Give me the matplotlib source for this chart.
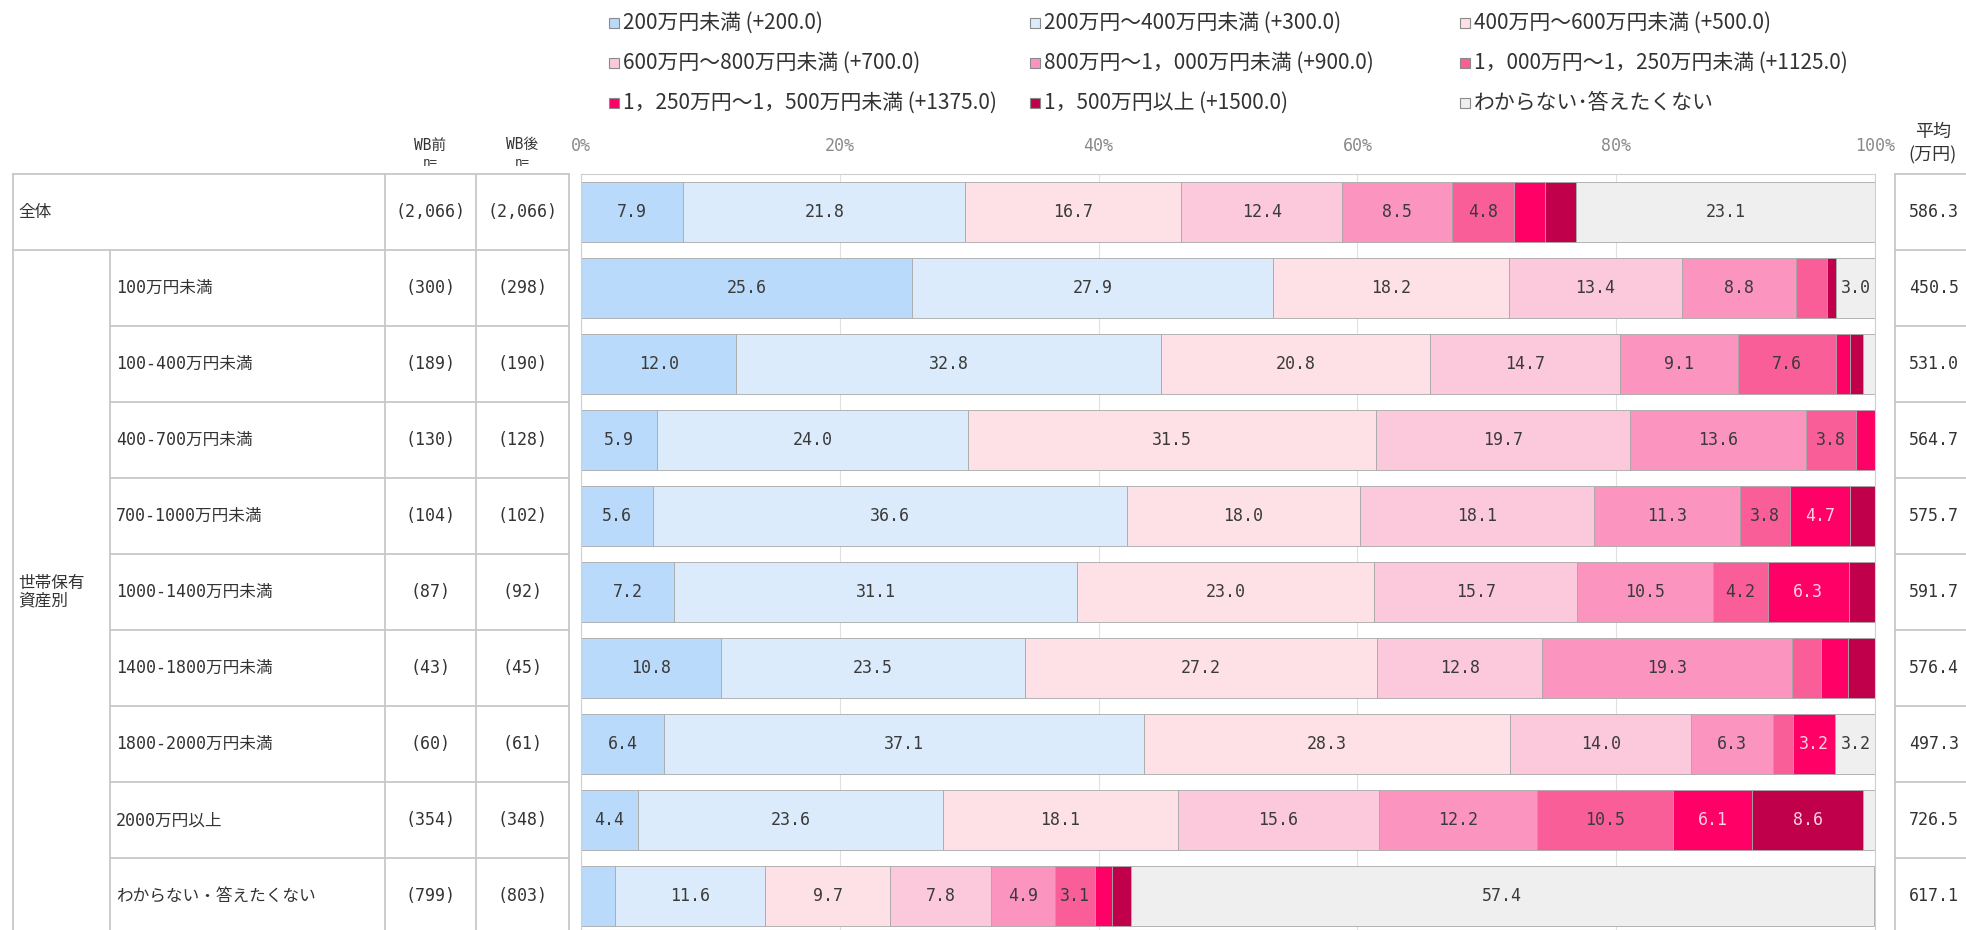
import matplotlib
matplotlib.use('Agg')
import matplotlib.pyplot as plt
from matplotlib.patches import Rectangle
import numpy as np

plt.rcParams['font.family'] = ['Noto Sans CJK JP', 'DejaVu Sans']
MONO = ['DejaVu Sans Mono', 'Noto Sans CJK JP']

# ---- data ----
groups = ['全体', '100万円未満', '100-400万円未満', '400-700万円未満', '700-1000万円未満',
          '1000-1400万円未満', '1400-1800万円未満', '1800-2000万円未満', '2000万円以上',
          'わからない・答えたくない']
n_before = ['(2,066)', '(300)', '(189)', '(130)', '(104)', '(87)', '(43)', '(60)', '(354)', '(799)']
n_after = ['(2,066)', '(298)', '(190)', '(128)', '(102)', '(92)', '(45)', '(61)', '(348)', '(803)']
mean_values = [586.3, 450.5, 531.0, 564.7, 575.7, 591.7, 576.4, 497.3, 726.5, 617.1]

series_names = ['200万円未満 (+200.0)', '200万円～400万円未満 (+300.0)', '400万円～600万円未満 (+500.0)',
                '600万円～800万円未満 (+700.0)', '800万円～1，000万円未満 (+900.0)',
                '1，000万円～1，250万円未満 (+1125.0)', '1，250万円～1，500万円未満 (+1375.0)',
                '1，500万円以上 (+1500.0)', 'わからない･答えたくない']

lt200 = [7.9, 25.6, 12.0, 5.9, 5.6, 7.2, 10.8, 6.4, 4.4, 2.6]
r200_400 = [21.8, 27.9, 32.8, 24.0, 36.6, 31.1, 23.5, 37.1, 23.6, 11.6]
r400_600 = [16.7, 18.2, 20.8, 31.5, 18.0, 23.0, 27.2, 28.3, 18.1, 9.7]
r600_800 = [12.4, 13.4, 14.7, 19.7, 18.1, 15.7, 12.8, 14.0, 15.6, 7.8]
r800_1000 = [8.5, 8.8, 9.1, 13.6, 11.3, 10.5, 19.3, 6.3, 12.2, 4.9]
r1000_1250 = [4.8, 2.4, 7.6, 3.8, 3.8, 4.2, 2.2, 1.6, 10.5, 3.1]
r1250_1500 = [2.4, 0.0, 1.1, 1.5, 4.7, 6.3, 2.1, 3.2, 6.1, 1.3]
ge1500 = [2.4, 0.7, 1.0, 0.0, 1.9, 2.0, 2.1, 0.0, 8.6, 1.5]
unknown = [23.1, 3.0, 0.9, 0.0, 0.0, 0.0, 0.0, 3.2, 0.9, 57.4]

series = [lt200, r200_400, r400_600, r600_800, r800_1000, r1000_1250, r1250_1500, ge1500, unknown]
colors = ['#b9dafa', '#dbebfb', '#fde1e6', '#fcc8dc', '#fb95bf', '#fa5e98', '#ff0066', '#c0004b', '#efefef']
label_colors = ['#3a3a3a'] * 6 + ['#ffd0e2', '#ffd0e2', '#3a3a3a']

# ---- layout (pixels) ----
W, H = 1966, 930
top = 174
pitch = 76
x_tbl = [12.5, 110, 385, 476, 569]
plot_l, plot_r = 581, 1875
mean_l = 1895

fig = plt.figure(figsize=(W / 100, H / 100), dpi=100)

# bar axes
ax = fig.add_axes([plot_l / W, 0, (plot_r - plot_l) / W, (H - top) / H])
y = np.arange(len(groups))
left = np.zeros(len(groups))
for vals, c, lc in zip(series, colors, label_colors):
    vals = np.array(vals)
    m = vals > 0
    ax.barh(y[m], vals[m], left=left[m], height=0.8, color=c, edgecolor='#a8a8a8', linewidth=0.6, zorder=2)
    for yi, v, l0 in zip(y, vals, left):
        if v >= 3.0:
            ax.text(l0 + v / 2, yi, f'{v:.1f}', ha='center', va='center', fontsize=12,
                    family=MONO, color=lc, zorder=3)
    left += vals

ax.set_xlim(0, 100)
ax.set_ylim(-0.5 + (H - top) / pitch, -0.5)
ax.set_xticks([0, 20, 40, 60, 80, 100])
ax.set_xticklabels(['0%', '20%', '40%', '60%', '80%', '100%'], family=MONO, fontsize=12, color='#8a8a8a')
tl = ax.get_xticklabels()
tl[0].set_ha('left')
tl[-1].set_ha('right')
ax.tick_params(top=True, labeltop=True, bottom=False, labelbottom=False, left=False, labelleft=False,
               length=0, pad=14)
ax.grid(axis='x', color='#e0e0e0', linewidth=0.8, zorder=0)
ax.set_axisbelow(True)
for s in ax.spines.values():
    s.set_color('#cfcfcf')

# overlay for table, legend and mean column
ov = fig.add_axes([0, 0, 1, 1])
ov.set_xlim(0, W)
ov.set_ylim(H, 0)
ov.axis('off')
ov.patch.set_visible(False)

line_kw = dict(color='#c8c8c8', linewidth=1.3)
bottom = top + pitch * len(groups)
for k in range(len(groups) + 1):
    yb = top + pitch * k
    x0 = x_tbl[0] if k <= 1 else x_tbl[1]
    ov.plot([x0, x_tbl[4]], [yb, yb], **line_kw)
    ov.plot([mean_l, W], [yb, yb], **line_kw)
ov.plot([x_tbl[0], x_tbl[0]], [top, bottom], **line_kw)
ov.plot([x_tbl[1], x_tbl[1]], [top + pitch, bottom], **line_kw)
for xv in x_tbl[2:]:
    ov.plot([xv, xv], [top, bottom], **line_kw)
ov.plot([mean_l, mean_l], [top, bottom], **line_kw)

txt = '#333333'
for i, g in enumerate(groups):
    yc = top + pitch * (i + 0.5)
    xg = x_tbl[0] + 6 if i == 0 else x_tbl[1] + 6
    ov.text(xg, yc, g, ha='left', va='center', fontsize=12, family=MONO, color=txt)
    ov.text((x_tbl[2] + x_tbl[3]) / 2, yc, n_before[i], ha='center', va='center', fontsize=12,
            family=MONO, color=txt)
    ov.text((x_tbl[3] + x_tbl[4]) / 2, yc, n_after[i], ha='center', va='center', fontsize=12,
            family=MONO, color=txt)
    ov.text(mean_l + 14, yc, f'{mean_values[i]:.1f}', ha='left', va='center', fontsize=12,
            family=MONO, color=txt)

ov.text(x_tbl[0] + 6, top + pitch * 5.5, '世帯保有\n資産別', ha='left', va='center', fontsize=12,
        color=txt, linespacing=1.05)

for xc, lab in zip([(x_tbl[2] + x_tbl[3]) / 2, (x_tbl[3] + x_tbl[4]) / 2], ['WB前', 'WB後']):
    ov.text(xc, 145, lab, ha='center', va='center', fontsize=10.5, family=MONO, color=txt)
    ov.text(xc, 162, 'n=', ha='center', va='center', fontsize=9, family=MONO, color=txt)

ov.text(1933, 132, '平均', ha='center', va='center', fontsize=13, color=txt)
ov.text(1933, 155, '(万円)', ha='center', va='center', fontsize=13, color=txt)

# legend, three columns
leg_x = [609, 1030, 1460]
leg_y = [23, 63, 103]
for j, (name, c) in enumerate(zip(series_names, colors)):
    lx = leg_x[j % 3]
    ly = leg_y[j // 3]
    ov.add_patch(Rectangle((lx, ly - 5), 10, 10, facecolor=c, edgecolor='#8a8a8a', linewidth=0.8))
    ov.text(lx + 14, ly, name, ha='left', va='center', fontsize=15, color=txt)

fig.savefig('out.png', dpi=100)
